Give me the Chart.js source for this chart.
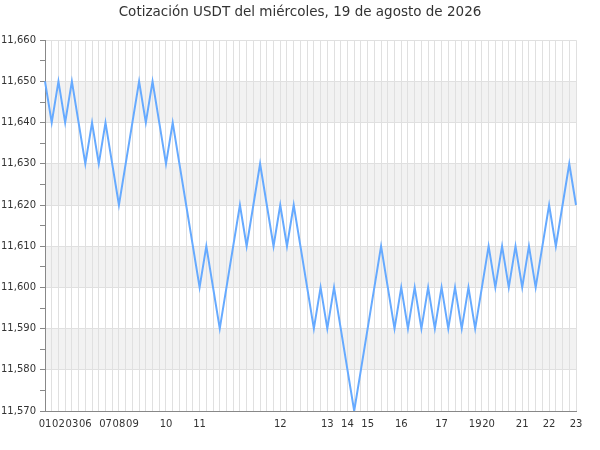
<!DOCTYPE html>
<html>
<head>
<meta charset="utf-8">
<script src="https://cdn.jsdelivr.net/npm/chart.js@4.4.1/dist/chart.umd.min.js"></script>
<style>
html,body{margin:0;padding:0;background:#fff;}
</style>
</head>
<body>
<canvas id="usdtChart" width="600" height="450"></canvas>
<script>

const titleText = "Cotización USDT del miércoles, 19 de agosto de 2026";

const prices = [
11650,11640,11650,11640,11650,11640,11630,11640,11630,11640,
11630,11620,11630,11640,11650,11640,11650,11640,11630,11640,
11630,11620,11610,11600,11610,11600,11590,11600,11610,11620,
11610,11620,11630,11620,11610,11620,11610,11620,11610,11600,
11590,11600,11590,11600,11590,11580,11570,11580,11590,11600,
11610,11600,11590,11600,11590,11600,11590,11600,11590,11600,
11590,11600,11590,11600,11590,11600,11610,11600,11610,11600,
11610,11600,11610,11600,11610,11620,11610,11620,11630,11620
];

// hour labels and the point where each one is shown
const hourLabels = ["01","02","03","06","07","08","09","10","11","12","13","14","15","16","17","19","20","21","22","23"];
const hourIndex = [0,2,4,6,9,11,13,18,23,35,42,45,48,53,59,64,66,71,75,79];

const yMin = 11570;
const yMax = 11660;

const labels = prices.map((p,i)=>{
const k = hourIndex.indexOf(i);
return k >= 0 ? hourLabels[k] : "";
});

/* alternating grey bands */
const bandsPlugin = {
id:"bands",
beforeDraw(chart){
const ctx = chart.ctx;
const area = chart.chartArea;
const y = chart.scales.y;
ctx.save();
ctx.fillStyle = "#f2f2f2";
for(let v = yMin + 10; v < yMax; v += 20){
const top = y.getPixelForValue(v + 10);
const bottom = y.getPixelForValue(v);
ctx.fillRect(area.left, top, area.right - area.left, bottom - top);
}
ctx.restore();
}
};

new Chart(
document.getElementById("usdtChart"),
{
type:"line",
data:{
labels:labels,
datasets:[
{
data:prices,
borderColor:"#66aaff",
borderWidth:2,
pointRadius:0,
tension:0,
fill:false
}
]
},
options:{
responsive:false,
animation:false,
layout:{
padding:{left:0,right:0,top:0,bottom:13}
},
plugins:{
legend:{display:false},
tooltip:{enabled:false},
title:{
display:true,
text:titleText,
color:"#333",
font:{family:"DejaVu Sans",size:13.5,weight:"normal"},
padding:{top:4,bottom:20}
}
},
scales:{
x:{
ticks:{
autoSkip:false,
maxRotation:0,
color:"#333",
padding:7,
font:{family:"DejaVu Sans",size:10}
},
grid:{
color:"#e0e0e0",
drawTicks:false
},
border:{color:"#888"}
},
y:{
min:yMin,
max:yMax,
afterFit:(s)=>{ s.width = 45; },
ticks:{
stepSize:5,
color:"#333",
padding:4,
font:{family:"DejaVu Sans",size:10},
callback:(v)=> v % 10 === 0 ? v.toLocaleString("en-US") : ""
},
grid:{
color:(c)=> c.tick && c.tick.value % 10 === 0 ? "#e0e0e0" : "rgba(0,0,0,0)",
tickColor:"#888",
tickLength:5
},
border:{color:"#888"}
},
/* empty right axis, only keeps space on the right */
y2:{
position:"right",
afterFit:(s)=>{ s.width = 24; },
ticks:{display:false},
grid:{display:false},
border:{display:false}
}
}
},
plugins:[bandsPlugin]
}
);

</script>
</body>
</html>
